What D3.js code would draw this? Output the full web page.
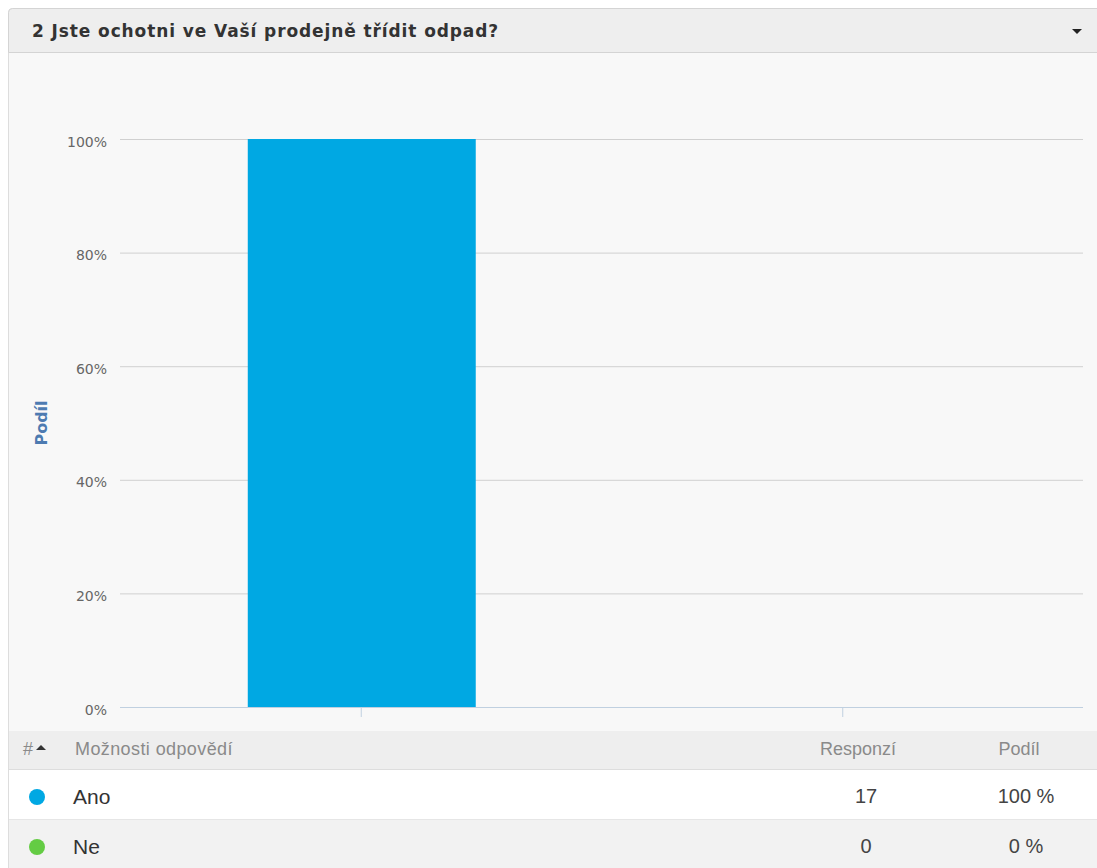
<!DOCTYPE html>
<meta charset="utf-8">
<script src="https://d3js.org/d3.v7.min.js"></script>
<style>
body { margin:0; background:#fff; }
svg { display:block; }
.axis path { stroke:none; }
.axis.y .tick line { stroke:#d0d0d0; }
.axis.y text { fill:#666; font:14px "DejaVu Sans", sans-serif; }
.axis.x .tick line { stroke:#c0d0e0; }
.cell { font-family:"Liberation Sans", Arial, sans-serif; }
</style>
<body>
<script>

var title = "2 Jste ochotni ve Vaší prodejně třídit odpad?"
var categories = ["Ano", "Ne"]
var shares = [100, 0]
var responses = [17, 0]
var shareLabels = ["100 %", "0 %"]
var colors = ["#00a8e3", "#64cc44"]
var yTicks = [0, 20, 40, 60, 80, 100]

var W = 1097, H = 868

var svg = d3.select("body").append("svg")
  .attr("width", W)
  .attr("height", H)

// panel body
svg.append("rect")
  .attr("x", 8.5).attr("y", 8.5)
  .attr("width", W).attr("height", H)
  .attr("rx", 4)
  .attr("fill", "#f8f8f8")
  .attr("stroke", "#ddd")

// header
svg.append("path")
  .attr("d", "M8.5,52.5 V12.5 a4,4 0 0 1 4,-4 H" + (W + 5) + " V52.5 Z")
  .attr("fill", "#eeeeee")
  .attr("stroke", "#d4d4d4")

svg.append("text")
  .attr("x", 32).attr("y", 37)
  .style("font", "bold 17px 'DejaVu Sans', sans-serif")
  .style("letter-spacing", "0.9px")
  .attr("fill", "#333")
  .text(title)

svg.append("path")
  .attr("d", "M1072,29 h10 l-5,5 z")
  .attr("fill", "#222")

var plotL = 120, plotR = 1083, plotT = 139, plotB = 707

var x = d3.scaleBand()
  .domain(categories)
  .range([plotL, plotR])
  .paddingInner(0.5265)
  .paddingOuter(0.2633)

var xt = d3.scaleBand().domain(categories).range([plotL, plotR])

var y = d3.scaleLinear()
  .domain([0, 100])
  .range([plotB, plotT])

var yAxis = d3.axisLeft(y)
  .tickValues(yTicks)
  .tickSize(-(plotR - plotL))
  .tickPadding(13)
  .tickFormat(function(d) { return d + "%" })

svg.append("g")
  .attr("class", "y axis")
  .attr("transform", "translate(" + plotL + ",0)")
  .call(yAxis)
  .selectAll("text").attr("dy", "0.5em")

svg.append("text")
  .attr("transform", "translate(47," + ((plotT + plotB) / 2) + ") rotate(-90)")
  .attr("text-anchor", "middle")
  .style("font", "bold 16px 'DejaVu Sans', sans-serif")
  .attr("fill", "#4d7bb1")
  .text("Podíl")

svg.selectAll(".bar")
  .data(categories)
  .enter().append("rect")
  .attr("class", "bar")
  .attr("x", function(d) { return x(d) + 1 })
  .attr("width", x.bandwidth())
  .attr("y", function(d, i) { return y(shares[i]) })
  .attr("height", function(d, i) { return plotB - y(shares[i]) })
  .attr("fill", function(d, i) { return colors[i] })

var xAxis = d3.axisBottom(xt).tickSize(10).tickSizeOuter(0).tickFormat("")
svg.append("g")
  .attr("class", "x axis")
  .attr("transform", "translate(0.5," + plotB + ")")
  .call(xAxis)
svg.append("line")
  .attr("x1", plotL).attr("x2", plotR)
  .attr("y1", plotB + 0.5).attr("y2", plotB + 0.5)
  .attr("stroke", "#c0d0e0")

// table
var tableTop = 731, headH = 38, rowH = 50
svg.append("rect")
  .attr("x", 9).attr("y", tableTop)
  .attr("width", W).attr("height", headH)
  .attr("fill", "#eeeeee")
svg.append("line")
  .attr("x1", 9).attr("x2", W).attr("y1", tableTop + headH + 0.5).attr("y2", tableTop + headH + 0.5)
  .attr("stroke", "#ddd")

var head = svg.append("g").attr("class", "cell")
  .style("font-size", "18px").attr("fill", "#8a8a8a")
head.append("text").attr("x", 23).attr("y", tableTop + 24).text("#")
head.append("path").attr("d", "M36," + (tableTop + 19) + " l5,-5 l5,5 z").attr("fill", "#333")
head.append("text").attr("x", 75).attr("y", tableTop + 24).style("letter-spacing", "0.4px").text("Možnosti odpovědí")
head.append("text").attr("x", 858).attr("y", tableTop + 24).attr("text-anchor", "middle").text("Responzí")
head.append("text").attr("x", 1019).attr("y", tableTop + 24).attr("text-anchor", "middle").text("Podíl")

var rows = svg.selectAll(".row")
  .data(categories)
  .enter().append("g")
  .attr("class", "row cell")
  .attr("transform", function(d, i) { return "translate(0," + (tableTop + headH + 1 + i * rowH) + ")" })

rows.append("rect")
  .attr("x", 9).attr("width", W).attr("height", rowH - 1)
  .attr("fill", function(d, i) { return i % 2 ? "#f2f2f2" : "#fff" })
rows.append("line")
  .attr("x1", 9).attr("x2", W).attr("y1", rowH - 0.5).attr("y2", rowH - 0.5)
  .attr("stroke", "#e6e6e6")
rows.append("circle")
  .attr("cx", 37).attr("cy", 27).attr("r", 8)
  .attr("fill", function(d, i) { return colors[i] })
rows.append("text")
  .attr("x", 73).attr("y", 34)
  .style("font-size", "21px").attr("fill", "#333")
  .text(function(d) { return d })
rows.append("text")
  .attr("x", 866).attr("y", 33).attr("text-anchor", "middle")
  .style("font-size", "20px").attr("fill", "#444")
  .text(function(d, i) { return responses[i] })
rows.append("text")
  .attr("x", 1026).attr("y", 33).attr("text-anchor", "middle")
  .style("font-size", "20px").attr("fill", "#444")
  .text(function(d, i) { return shareLabels[i] })

</script>
</body>
